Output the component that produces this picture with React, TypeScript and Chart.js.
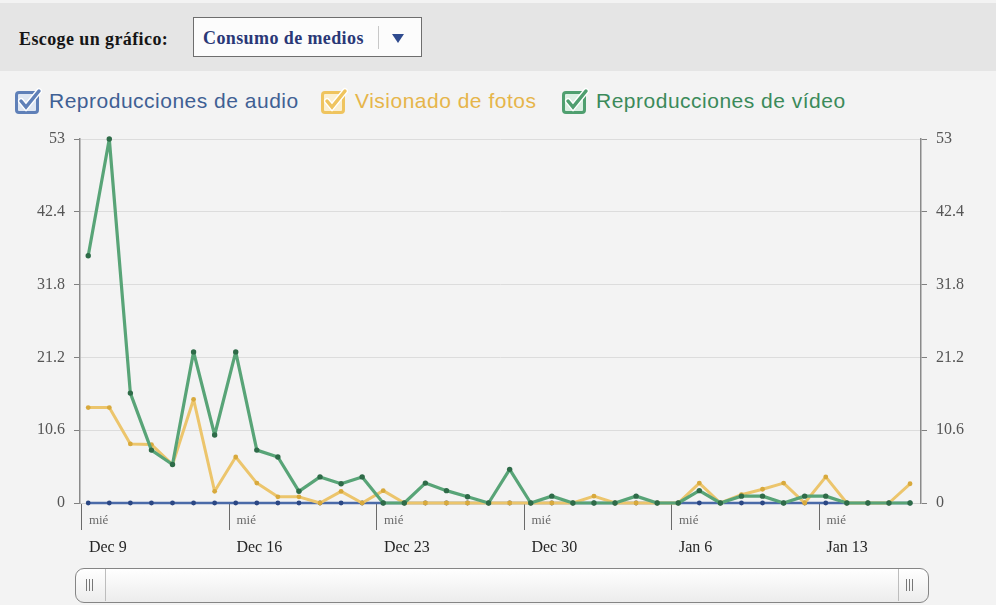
import React, { useEffect, useRef } from "react";
import { Chart, registerables } from "chart.js";

Chart.register(...registerables);

// ---- data ----
const dates = [
  "Dec 9", "Dec 10", "Dec 11", "Dec 12", "Dec 13", "Dec 14", "Dec 15",
  "Dec 16", "Dec 17", "Dec 18", "Dec 19", "Dec 20", "Dec 21", "Dec 22",
  "Dec 23", "Dec 24", "Dec 25", "Dec 26", "Dec 27", "Dec 28", "Dec 29",
  "Dec 30", "Dec 31", "Jan 1", "Jan 2", "Jan 3", "Jan 4", "Jan 5",
  "Jan 6", "Jan 7", "Jan 8", "Jan 9", "Jan 10", "Jan 11", "Jan 12",
  "Jan 13", "Jan 14", "Jan 15", "Jan 16", "Jan 17",
];

const audioValues = [
  0, 0, 0, 0, 0, 0, 0, 0, 0, 0,
  0, 0, 0, 0, 0, 0, 0, 0, 0, 0,
  0, 0, 0, 0, 0, 0, 0, 0, 0, 0,
  0, 0, 0, 0, 0, 0, 0, 0, 0, 0,
];

const photoValues = [
  13.9, 13.9, 8.6, 8.5, 5.6, 15.1, 1.7, 6.7, 2.9, 0.9,
  0.9, 0, 1.7, 0, 1.8, 0, 0, 0, 0, 0,
  0, 0, 0, 0, 1, 0, 0, 0, 0, 2.9,
  0, 1.2, 2, 2.9, 0, 3.8, 0, 0, 0, 2.8,
];

const videoValues = [
  36, 53, 16, 7.7, 5.6, 22, 9.9, 22, 7.7, 6.7,
  1.7, 3.8, 2.8, 3.8, 0, 0, 2.9, 1.8, 0.9, 0,
  4.9, 0, 1, 0, 0, 0, 1, 0, 0, 1.8,
  0, 1, 1, 0, 1, 1, 0, 0, 0, 0,
];

const weekTickIndex = [0, 7, 14, 21, 28, 35];
const weekTickDay = "mié";

const yTicks = [0, 10.6, 21.2, 31.8, 42.4, 53];
const yTickLabels = ["0", "10.6", "21.2", "31.8", "42.4", "53"];

const seriesNames = [
  "Reproducciones de audio",
  "Visionado de fotos",
  "Reproducciones de vídeo",
];

// ---- styles ----
const TICK_SHIFT = -0.3;
const SERIF = '"Liberation Serif", "DejaVu Serif", serif';
const SANS = '"Liberation Sans", Arial, sans-serif';

const xLabelPlugin = {
  id: "xLabels",
  afterDraw(chart: any) {
    const { ctx, chartArea, scales } = chart;
    const xs = scales.x;
    ctx.save();
    ctx.textAlign = "left";
    ctx.textBaseline = "middle";
    weekTickIndex.forEach((idx) => {
      const px = xs.getPixelForValue(idx + TICK_SHIFT);
      ctx.fillStyle = "#6a6a6a";
      ctx.font = `13px ${SERIF}`;
      ctx.fillText(weekTickDay, px + 7, chartArea.bottom + 18);
      ctx.fillStyle = "#262626";
      ctx.font = `16px ${SERIF}`;
      ctx.fillText(dates[idx], px + 7, chartArea.bottom + 45);
    });
    ctx.restore();
  },
};

function CheckIcon({ color, light }: { color: string; light: string }) {
  return (
    <svg width="30" height="28" viewBox="0 0 30 28" style={{ display: "block" }}>
      <rect x="2.5" y="5.5" width="21" height="20" rx="2.5" fill={light} stroke={color} strokeWidth="3" />
      <polyline points="7,14 12,20 25,4" fill="none" stroke="#ffffff" strokeWidth="6" strokeLinecap="round" />
      <polyline points="7,14 12,20 25,4" fill="none" stroke={color} strokeWidth="3.5" strokeLinecap="round" />
    </svg>
  );
}

const legendItems = [
  { name: seriesNames[0], text: "#3f6094", icon: "#5f80b8", light: "#dfe7f3", left: 14 },
  { name: seriesNames[1], text: "#e6b54a", icon: "#efc45e", light: "#fbf0d2", left: 320 },
  { name: seriesNames[2], text: "#3b8a5a", icon: "#4f9f6f", light: "#dcefe3", left: 561 },
];

export default function App() {
  const canvasRef = useRef<HTMLCanvasElement | null>(null);

  useEffect(() => {
    if (!canvasRef.current) return;
    const toPts = (arr: number[]) => arr.map((v, i) => ({ x: i, y: v }));
    const yCommon = {
      min: 0,
      max: 53,
      afterBuildTicks: (s: any) => {
        s.ticks = yTicks.map((v) => ({ value: v }));
      },
      ticks: {
        color: "#555555",
        font: { family: SERIF, size: 16 },
        padding: 9,
        callback: (v: any) => {
          const i = yTicks.findIndex((t) => Math.abs(t - Number(v)) < 1e-6);
          return i >= 0 ? yTickLabels[i] : "";
        },
      },
      border: { display: true, color: "#8a8a8a", width: 1.5 },
    };
    const lineCommon = {
      tension: 0,
      clip: false,
      borderJoinStyle: "round",
      borderCapStyle: "round",
      pointBorderWidth: 0,
    };
    const chart = new Chart(canvasRef.current, {
      type: "line",
      data: {
        datasets: [
          {
            ...lineCommon,
            label: seriesNames[2],
            data: toPts(videoValues),
            borderColor: "#58a477",
            backgroundColor: "#2e6b48",
            pointBackgroundColor: "#2e6b48",
            pointBorderColor: "#2e6b48",
            pointRadius: 2.7,
            borderWidth: 3.2,
          } as any,
          {
            ...lineCommon,
            label: seriesNames[1],
            data: toPts(photoValues),
            borderColor: "#ecc56c",
            backgroundColor: "#d8a93c",
            pointBackgroundColor: "#d8a93c",
            pointBorderColor: "#d8a93c",
            pointRadius: 2.4,
            borderWidth: 3,
          } as any,
          {
            ...lineCommon,
            label: seriesNames[0],
            data: toPts(audioValues),
            borderColor: "#4a6aa8",
            backgroundColor: "#2b4784",
            pointBackgroundColor: "#2b4784",
            pointBorderColor: "#2b4784",
            pointRadius: 2.4,
            borderWidth: 2.5,
          } as any,
        ],
      },
      options: {
        animation: false,
        responsive: true,
        maintainAspectRatio: false,
        layout: { padding: { top: 19, left: 0, right: 0, bottom: 0 } },
        plugins: { legend: { display: false }, tooltip: { enabled: false } },
        scales: {
          x: {
            type: "linear",
            min: -0.39,
            max: 39.52,
            afterBuildTicks: (s: any) => {
              s.ticks = weekTickIndex.map((v) => ({ value: v + TICK_SHIFT }));
            },
            afterFit: (s: any) => {
              s.height = 62;
            },
            grid: {
              drawOnChartArea: false,
              drawTicks: true,
              tickLength: 27,
              color: "#6a6a6a",
              lineWidth: 1,
            },
            border: { display: true, color: "#d0d0d0", width: 1 },
            ticks: { display: false },
          },
          y: {
            ...yCommon,
            position: "left",
            afterFit: (s: any) => {
              s.width = 80;
            },
            grid: {
              color: "#dcdcdc",
              tickColor: "#808080",
              tickLength: 6,
              lineWidth: 1,
              drawOnChartArea: true,
            },
          } as any,
          y2: {
            ...yCommon,
            display: true,
            position: "right",
            afterFit: (s: any) => {
              s.width = 75;
            },
            grid: {
              drawOnChartArea: false,
              tickColor: "#808080",
              tickLength: 6,
              lineWidth: 1,
            },
          } as any,
        },
      },
      plugins: [xLabelPlugin],
    });
    return () => chart.destroy();
  }, []);

  return (
    <div
      style={{
        position: "fixed",
        left: 0,
        top: 0,
        width: 996,
        height: 605,
        background: "#f3f3f3",
        overflow: "hidden",
      }}
    >
      {/* header bar */}
      <div
        style={{
          position: "absolute",
          left: 0,
          top: 3,
          width: 996,
          height: 68,
          background: "#e5e5e5",
        }}
      >
        <div
          style={{
            position: "absolute",
            left: 19,
            top: 26,
            fontFamily: SERIF,
            fontWeight: "bold",
            fontSize: 18,
            color: "#151515",
            letterSpacing: 0.4,
            whiteSpace: "nowrap",
          }}
        >
          Escoge un gráfico:
        </div>
        <div
          style={{
            position: "absolute",
            left: 193,
            top: 14,
            width: 229,
            height: 40,
            background: "#fcfcfc",
            border: "1px solid #6e6e6e",
            boxSizing: "border-box",
          }}
        >
          <div
            style={{
              position: "absolute",
              left: 9,
              top: 10,
              fontFamily: SERIF,
              fontWeight: "bold",
              fontSize: 18,
              color: "#2a3877",
              letterSpacing: 0.4,
              whiteSpace: "nowrap",
            }}
          >
            Consumo de medios
          </div>
          <div
            style={{
              position: "absolute",
              left: 184,
              top: 8,
              width: 1,
              height: 23,
              background: "#c8c8c8",
            }}
          />
          <svg
            width="12"
            height="10"
            viewBox="0 0 12 10"
            style={{ position: "absolute", left: 198, top: 16 }}
          >
            <polygon points="0,0 12,0 6,9" fill="#2f4b8f" />
          </svg>
        </div>
      </div>

      {/* legend */}
      {legendItems.map((it) => (
        <div
          key={it.name}
          style={{
            position: "absolute",
            left: it.left,
            top: 86,
            display: "flex",
            alignItems: "center",
            height: 30,
          }}
        >
          <CheckIcon color={it.icon} light={it.light} />
          <span
            style={{
              marginLeft: 5,
              fontFamily: SANS,
              fontSize: 21,
              color: it.text,
              whiteSpace: "nowrap",
              letterSpacing: 0.5,
            }}
          >
            {it.name}
          </span>
        </div>
      ))}

      {/* chart */}
      <div
        style={{
          position: "absolute",
          left: 0,
          top: 120,
          width: 996,
          height: 445,
        }}
      >
        <canvas ref={canvasRef} />
      </div>

      {/* range scrollbar */}
      <div
        style={{
          position: "absolute",
          left: 75,
          top: 568,
          width: 854,
          height: 35,
          boxSizing: "border-box",
          border: "1.5px solid #858585",
          borderRadius: 9,
          background: "linear-gradient(#ffffff, #ececec)",
        }}
      >
        <div style={{ position: "absolute", left: 29, top: 0, width: 1, height: 32, background: "#bdbdbd" }} />
        <div style={{ position: "absolute", left: 822, top: 0, width: 1, height: 32, background: "#bdbdbd" }} />
        {[10, 13, 16].map((x) => (
          <div key={"l" + x} style={{ position: "absolute", left: x, top: 10, width: 1, height: 12, background: "#777" }} />
        ))}
        {[830, 833, 836].map((x) => (
          <div key={"r" + x} style={{ position: "absolute", left: x, top: 10, width: 1, height: 12, background: "#777" }} />
        ))}
      </div>
    </div>
  );
}
